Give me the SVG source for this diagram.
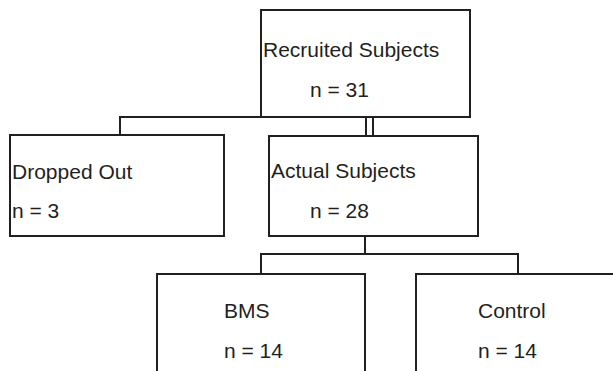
<svg xmlns="http://www.w3.org/2000/svg" width="613" height="371" viewBox="0 0 613 371">
<style>
.box{fill:#fff;stroke:#231f20;stroke-width:2}
.ln{fill:none;stroke:#231f20;stroke-width:2}
text{font-family:"Liberation Sans",Arial,sans-serif;font-size:21px;fill:#231f20}
</style>
<rect width="613" height="371" fill="#fff"/>
<g id="connectors">
<path class="ln" d="M120 135V117H470"/>
<path class="ln" d="M366 117V136M373 117V136"/>
<path class="ln" d="M365 236V254M261 274V254H518V274"/>
</g>
<g id="recruited">
<rect class="box" x="261" y="10" width="209" height="107"/>
<text x="263" y="57">Recruited Subjects</text>
<text x="310" y="97">n = 31</text>
</g>
<g id="dropped">
<rect class="box" x="10" y="135" width="214" height="101"/>
<text x="12" y="179">Dropped Out</text>
<text x="12" y="218">n = 3</text>
</g>
<g id="actual">
<rect class="box" x="269" y="136" width="209" height="100"/>
<text x="271" y="178">Actual Subjects</text>
<text x="310" y="218">n = 28</text>
</g>
<g id="bms">
<rect class="box" x="157" y="274" width="208" height="110"/>
<text x="224" y="318">BMS</text>
<text x="224" y="358">n = 14</text>
</g>
<g id="control">
<rect class="box" x="416" y="274" width="210" height="110"/>
<text x="478" y="318">Control</text>
<text x="478" y="358">n = 14</text>
</g>
</svg>
